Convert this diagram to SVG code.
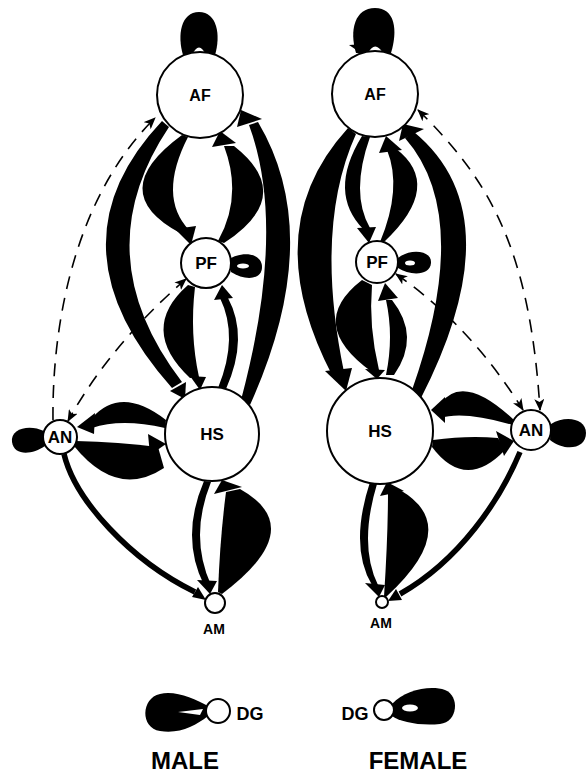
<svg xmlns="http://www.w3.org/2000/svg" width="586" height="775" viewBox="0 0 586 775">
<style>
.n circle{fill:#fff;stroke:#000;stroke-width:2}
.n text,.t{font-family:"Liberation Sans",Arial,sans-serif;font-weight:bold;text-anchor:middle;fill:#000}
.w{fill:#000}
.h{fill:#fff}
.dash{fill:none;stroke:#000;stroke-width:1.6;stroke-dasharray:13 9}
.line{fill:none;stroke:#000;stroke-width:5.5}
</style>
<defs>
<marker id="ah" viewBox="0 0 12 10" refX="11" refY="5" markerWidth="12" markerHeight="10" markerUnits="userSpaceOnUse" orient="auto-start-reverse">
<path d="M0,0 L12,5 L0,10 L3,5 Z" fill="#000"/>
</marker>
</defs>
<rect width="586" height="775" fill="#fff"/>
<g id="connectors">
<!-- male -->
<path class="w" d="M 183 55 C 177 35, 181 12, 199 12 C 217 12, 221 35, 215 55 Z"/>
<path class="h" d="M 192 55 Q 199 40 206 55 Z"/>
<path class="w" d="M 182 135 Q 104 192 180 233 L 189 230 Q 157.5 196.5 188 137 Z"/>
<path class="w" d="M 175 229 L 196 226 L 191 245 Z"/>
<path class="w" d="M 224 243 Q 297 195.5 234 146 L 224 146 Q 243 196.5 218 241 Z"/>
<path class="w" d="M 212 147 L 236 143 L 220 131 Z"/>
<path class="w" d="M 162 121 Q 45 245 172 388 L 182 382 Q 84 254 169 127 Z"/>
<path class="w" d="M 170 391 L 186 382 L 185 399 Z"/>
<path class="w" d="M 250 405 Q 326 236.5 258 122 L 249 125 Q 287 227.5 241 400 Z"/>
<path class="w" d="M 237 127 L 262 119 L 241 110 Z"/>
<path class="w" d="M 188 285 Q 138 329 190 378 L 199 377 Q 189.5 334 195 287 Z"/>
<path class="w" d="M 190 376 L 206 377 L 200 390 Z"/>
<path class="w" d="M 226 389 Q 249 337 228 298 L 220 298 Q 239 337 218 388 Z"/>
<path class="w" d="M 214 300 L 233 298 L 222 285 Z"/>
<path class="w" d="M 166 420 Q 121 385 92 418 L 92 428 Q 121 418 165 428 Z"/>
<path class="w" d="M 95 413 L 94 434 L 77 427 Z"/>
<path class="w" d="M 74 446 Q 117 499 164 468 L 158 447 Q 119 442 76 441 Z"/>
<path class="w" d="M 148 434 L 166 444 L 150 455 Z"/>
<path class="w" d="M 44 431 C 30 424, 10 428, 12 442 C 14 456, 32 455, 45 446 Z"/>
<path class="line" d="M 64 454 C 75 500, 130 560, 195 592"/>
<path class="w" d="M 192 597 L 198 587 L 206 600 Z"/>
<path class="w" d="M 204 481 Q 180 537 204 585 L 211 585 Q 189 536.5 211 482 Z"/>
<path class="w" d="M 197 580 L 217 581 L 210 594 Z"/>
<path class="w" d="M 222 594 Q 310 528 240 489 L 226 492 Q 220 538 218 592 Z"/>
<path class="w" d="M 214 494 L 242 487 L 222 480 Z"/>
<path class="w" d="M 231 258 C 245 251, 262 254, 262 267 C 262 280, 245 281, 231 272 Z"/>
<ellipse class="h" cx="243" cy="266" rx="6" ry="2.5"/>
<path class="dash" d="M 53 420 C 52 330, 72 200, 155 118" marker-end="url(#ah)"/>
<path class="dash" d="M 186 279 Q 110 345 68 421" marker-start="url(#ah)" marker-end="url(#ah)"/>
<!-- female -->
<path class="w" d="M 356 53 C 349 30, 355 8, 375 8 C 395 8, 398 30, 391 53 Z"/>
<path class="w" d="M 349 45 L 364 44 L 361 53 Z"/>
<path class="h" d="M 368 53 Q 375 40 383 53 Z"/>
<path class="w" d="M 362 136 Q 327 193 364 230 L 370 228 Q 350 193.5 370 137 Z"/>
<path class="w" d="M 357 228 L 376 227 L 369 243 Z"/>
<path class="w" d="M 384 242 Q 444.5 185 395 148 L 387 150 Q 402.5 188 380 242 Z"/>
<path class="w" d="M 379 153 L 402 150 L 386 136 Z"/>
<path class="w" d="M 348 128 Q 256 228.5 332 375 L 344 372 Q 314 227 356 134 Z"/>
<path class="w" d="M 325 371 L 352 368 L 346 391 Z"/>
<path class="w" d="M 421 398 Q 514.5 215 414 132 L 405 138 Q 473.5 216 412 390 Z"/>
<path class="w" d="M 399 141 L 424 129 L 403 124 Z"/>
<path class="w" d="M 362 280 Q 305 324 372 372 L 379 370 Q 368.5 326.5 372 285 Z"/>
<path class="w" d="M 365 369 L 385 370 L 377 379 Z"/>
<path class="w" d="M 394 375 Q 421 336.5 392 300 L 386 300 Q 394 336.5 386 375 Z"/>
<path class="w" d="M 378 301 L 398 298 L 385 283 Z"/>
<path class="w" d="M 514 420 Q 463 372 440 404 L 440 418 Q 463.5 410.5 513 425 Z"/>
<path class="w" d="M 445 397 L 445 423 L 431 410 Z"/>
<path class="w" d="M 433 440 Q 468.5 435 498 438 L 505 450 Q 465.5 491.5 432 447 Z"/>
<path class="w" d="M 496 431 L 504 456 L 514 441 Z"/>
<path class="w" d="M 551 424 C 565 415, 586 418, 586 433 C 586 449, 565 452, 550 440 Z"/>
<path class="line" d="M 520 452 C 500 500, 460 560, 400 594"/>
<path class="w" d="M 402 600 L 396 589 L 388 601 Z"/>
<path class="w" d="M 370 482 Q 349 546.5 372 585 L 378 585 Q 358.5 545.5 377 484 Z"/>
<path class="w" d="M 365 583 L 385 585 L 379 597 Z"/>
<path class="w" d="M 386 597 Q 463 526.5 400 490 L 388 492 Q 388 535.5 384 597 Z"/>
<path class="w" d="M 380 496 L 404 491 L 387 482 Z"/>
<path class="w" d="M 398 258 C 410 248, 432 250, 431 263 C 430 276, 410 276, 398 268 Z"/>
<ellipse class="h" cx="410" cy="263" rx="5" ry="2.5"/>
<path class="dash" d="M 418 110 C 490 180, 530 250, 540 410" marker-start="url(#ah)" marker-end="url(#ah)"/>
<path class="dash" d="M 396 274 Q 470 325 523 410" marker-start="url(#ah)" marker-end="url(#ah)"/>
</g>
<g id="AF-male" class="n"><circle cx="200" cy="95" r="43"/><text x="200" y="101" font-size="16">AF</text></g>
<g id="PF-male" class="n"><circle cx="206" cy="263" r="25"/><text x="206" y="269" font-size="17">PF</text></g>
<g id="HS-male" class="n"><circle cx="212" cy="434" r="47"/><text x="212" y="440" font-size="17">HS</text></g>
<g id="AN-male" class="n"><circle cx="60" cy="437" r="17"/><text x="60" y="443" font-size="17">AN</text></g>
<g id="AM-male" class="n"><circle cx="215" cy="603" r="10"/><text x="214" y="634" font-size="14">AM</text></g>
<g id="AF-female" class="n"><circle cx="375" cy="94" r="43"/><text x="375" y="100" font-size="16">AF</text></g>
<g id="PF-female" class="n"><circle cx="377" cy="262" r="21"/><text x="377" y="268" font-size="17">PF</text></g>
<g id="HS-female" class="n"><circle cx="380" cy="431" r="53"/><text x="380" y="437" font-size="17">HS</text></g>
<g id="AN-female" class="n"><circle cx="531" cy="430" r="20"/><text x="531" y="436" font-size="17">AN</text></g>
<g id="AM-female" class="n"><circle cx="382" cy="602" r="6"/><text x="381" y="628" font-size="14">AM</text></g>
<g id="DG-male" class="n">
<path class="w" d="M 208 706 C 195 699, 175 690, 160 694 C 141 698, 140 728, 160 731 C 180 734, 195 726, 208 716 Z"/>
<path class="h" d="M 178 712 L 203 709 L 200 715 Z"/>
<circle cx="218" cy="711" r="12"/>
<text x="250" y="720" font-size="18">DG</text>
</g>
<g id="DG-female" class="n">
<path class="w" d="M 392 704 C 405 690, 430 685, 445 690 C 460 696, 458 722, 440 724 C 420 726, 400 722, 392 716 Z"/>
<ellipse class="h" cx="410" cy="708" rx="8" ry="3.5"/>
<circle cx="384" cy="710" r="10"/>
<text x="355" y="720" font-size="18">DG</text>
</g>
<text class="t" x="185" y="769" font-size="24">MALE</text>
<text class="t" x="418" y="769" font-size="24">FEMALE</text>
</svg>
